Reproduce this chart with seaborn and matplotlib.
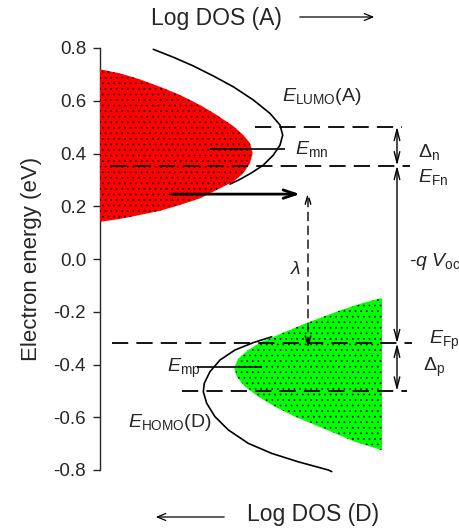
import matplotlib
matplotlib.use("Agg")
import matplotlib.pyplot as plt
import seaborn as sns

sns.set_style("ticks")
plt.rcParams['font.family'] = ['Liberation Sans', 'DejaVu Sans']
plt.rcParams['mathtext.fontset'] = 'custom'
plt.rcParams['mathtext.rm'] = 'Liberation Sans'
plt.rcParams['mathtext.it'] = 'Liberation Sans:italic'
plt.rcParams['hatch.linewidth'] = 0.5

# occupied states of the acceptor (red): energy vs log DOS
red_E = [0.719, 0.704, 0.681, 0.653, 0.622, 0.584, 0.546, 0.504, 0.470, 0.439, 0.401,
         0.363, 0.325, 0.293, 0.262, 0.230, 0.205, 0.183, 0.167, 0.152, 0.141]
red_x = [0, 20, 40, 60, 80, 100, 116.7, 133.3, 143.3, 150, 152.7,
         150, 143.3, 133.3, 116.7, 100, 80, 60, 40, 20, 0]

# occupied states of the donor (green)
green_E = [-0.149, -0.168, -0.193, -0.221, -0.250, -0.282, -0.314, -0.345, -0.377, -0.411,
           -0.446, -0.484, -0.522, -0.560, -0.598, -0.629, -0.661, -0.693, -0.724]
green_x = [281, 261.7, 241.7, 221.7, 201.7, 181.7, 161.7, 148.3, 138.3, 134.3,
           136.7, 145, 158.3, 175, 195, 215, 235, 255, 281]
green_right = 282

# DOS curves
lumo_E = [0.795, 0.765, 0.732, 0.694, 0.653, 0.603, 0.552, 0.508, 0.470, 0.432,
          0.394, 0.356, 0.327, 0.302, 0.284]
lumo_x = [53.3, 73.3, 93.3, 113.3, 133.3, 153.3, 170, 180, 182.7, 180,
          173.3, 163.3, 151.7, 140, 130]
homo_E = [-0.295, -0.307, -0.317, -0.345, -0.383, -0.427, -0.471, -0.503, -0.547, -0.598,
          -0.648, -0.699, -0.737, -0.769, -0.800, -0.806]
homo_x = [171.7, 161.7, 153.3, 135, 120, 110, 104.3, 103.3, 106.7, 115,
          128.3, 148.3, 171.7, 198.3, 228.3, 231.7]

# energy levels (eV)
E_lumo = 0.502
E_Fn = 0.354
E_mn = 0.416
E_Fp = -0.320
E_homo = -0.500
E_mp = -0.411
E_transfer = 0.246

fig = plt.figure(figsize=(4.6, 5.29), dpi=100)
ax = fig.add_axes([100/460, 59/529, 360/460, 422/529])

sns.lineplot(x=lumo_x, y=lumo_E, sort=False, estimator=None, color='black', lw=1.2, ax=ax, zorder=2)
sns.lineplot(x=homo_x, y=homo_E, sort=False, estimator=None, color='black', lw=1.2, ax=ax, zorder=2)
for l in ax.lines:
    l.set_clip_on(False)
    l.set_solid_joinstyle('round')

ax.fill_betweenx(red_E, 0, red_x, facecolor='#ff0000', edgecolor='black', lw=0, hatch='...', zorder=3)
ax.fill_betweenx(green_E, green_x, green_right, facecolor='#00ff00', edgecolor='black', lw=0, hatch='...', zorder=3)

dash = (0, (9, 4.5))
ax.hlines(E_lumo, 155, 302, colors='black', lw=1.3, linestyles=dash, zorder=4)
ax.hlines(E_Fn, 10, 310, colors='black', lw=1.3, linestyles=dash, zorder=4)
ax.hlines(E_Fp, 12, 312, colors='black', lw=1.3, linestyles=dash, zorder=4)
ax.hlines(E_homo, 82, 307, colors='black', lw=1.3, linestyles=dash, zorder=4)
ax.hlines(E_mn, 110, 185, colors='black', lw=1.2, zorder=4)
ax.hlines(E_mp, 97, 162, colors='black', lw=1.2, zorder=4)

# charge transfer arrow
ax.annotate('', xy=(200, E_transfer), xytext=(72, E_transfer),
            arrowprops=dict(arrowstyle='->,head_length=0.9,head_width=0.3', lw=2.0, color='black',
                            shrinkA=0, shrinkB=0), zorder=5)
# reorganisation energy arrow
ax.annotate('', xy=(208, E_transfer + 0.008), xytext=(208, E_Fp - 0.018),
            arrowprops=dict(arrowstyle='<->,head_length=0.7,head_width=0.2', lw=1.0, color='black',
                            linestyle=(0, (6, 4)), shrinkA=0, shrinkB=0), zorder=5)
# Voc and delta arrows
arrow_kw = dict(arrowstyle='<->,head_length=0.8,head_width=0.2', lw=1.0, color='black', shrinkA=0, shrinkB=0)
ax.annotate('', xy=(297, E_Fn), xytext=(297, E_Fp), arrowprops=arrow_kw, zorder=5)
ax.annotate('', xy=(297, E_lumo), xytext=(297, E_Fn), arrowprops=arrow_kw, zorder=5)
ax.annotate('', xy=(297, E_Fp), xytext=(297, E_homo), arrowprops=arrow_kw, zorder=5)

fs = 14
ax.text(182, 0.615, r'$\mathit{E}_{\mathrm{LUMO}}$(A)', fontsize=fs, va='center')
ax.text(195, E_mn, r'$\mathit{E}_{\mathrm{mn}}$', fontsize=fs, va='center')
ax.text(318, 0.405, r'$\mathit{\Delta}_{\mathrm{n}}$', fontsize=fs, va='center')
ax.text(318, 0.31, r'$\mathit{E}_{\mathrm{Fn}}$', fontsize=fs, va='center')
ax.text(196, -0.04, r'$\mathit{\lambda}$', fontsize=fs, va='center', ha='center')
ax.text(309, -0.01, r'-$\mathit{q}$ $\mathit{V}_{\mathrm{oc}}$', fontsize=fs, va='center')
ax.text(329, -0.31, r'$\mathit{E}_{\mathrm{Fp}}$', fontsize=fs, va='center')
ax.text(323, -0.41, r'$\mathit{\Delta}_{\mathrm{p}}$', fontsize=fs, va='center')
ax.text(67, -0.413, r'$\mathit{E}_{\mathrm{mp}}$', fontsize=fs, va='center')
ax.text(28, -0.62, r'$\mathit{E}_{\mathrm{HOMO}}$(D)', fontsize=fs, va='center')

ax.set_xlim(0, 360)
ax.set_ylim(-0.8, 0.8)
ax.set_yticks([-0.8, -0.6, -0.4, -0.2, 0.0, 0.2, 0.4, 0.6, 0.8])
ax.set_yticklabels(['-0.8', '-0.6', '-0.4', '-0.2', '0.0', '0.2', '0.4', '0.6', '0.8'])
ax.set_xticks([])
ax.set_ylabel('Electron energy (eV)', fontsize=16, labelpad=8)
ax.tick_params(axis='y', labelsize=13.5, direction='out', length=5, width=1, pad=5)
sns.despine(ax=ax, top=True, right=True, bottom=True)
ax.spines['left'].set_linewidth(1.0)

# axis direction labels
fig.text(216/460, 1 - 18/529, 'Log DOS (A)', fontsize=16.5, ha='center', va='center')
fig.text(313/460, 1 - 514/529, 'Log DOS (D)', fontsize=16.5, ha='center', va='center')
fig.add_artist(matplotlib.patches.FancyArrowPatch((297/460, 1 - 17/529), (377/460, 1 - 17/529),
               transform=fig.transFigure, arrowstyle='->,head_length=6,head_width=2.5', lw=0.9, color='black'))
fig.add_artist(matplotlib.patches.FancyArrowPatch((227/460, 1 - 517/529), (153/460, 1 - 517/529),
               transform=fig.transFigure, arrowstyle='->,head_length=6,head_width=2.5', lw=0.9, color='black'))

fig.savefig('out.png', dpi=100)
